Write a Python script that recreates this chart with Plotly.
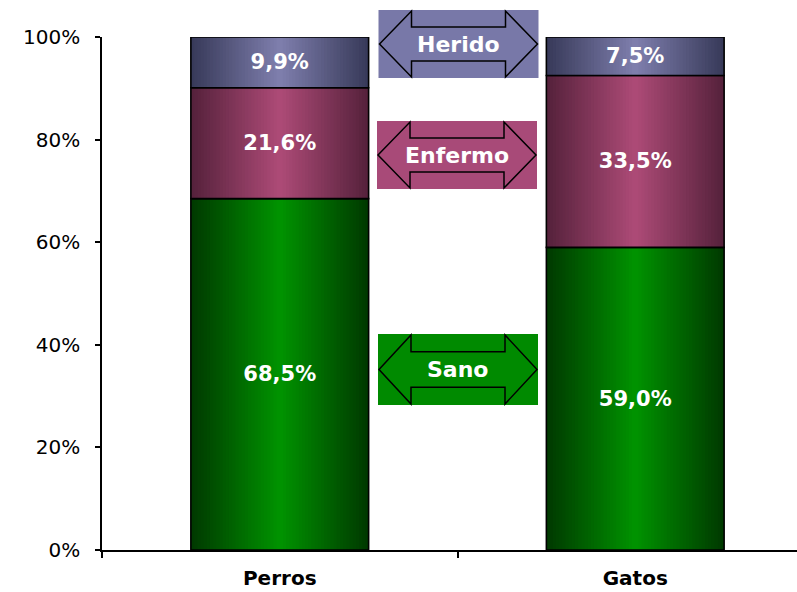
import plotly.graph_objects as go

categories = ["Perros", "Gatos"]
sano = [68.5, 59.0]
enfermo = [21.6, 33.5]
herido = [9.9, 7.5]
y_ticks = [0, 20, 40, 60, 80, 100]

FONT = "DejaVu Sans"
W, H = 797, 592
L, R, T, B = 102, 0, 37, 42

# segment name, values, edge colour, centre colour, legend box colour
segments = [
    ("Sano", sano, (0, 58, 0), (0, 146, 0), "#008a00"),
    ("Enfermo", enfermo, (86, 34, 60), (172, 74, 118), "#a84a78"),
    ("Herido", herido, (56, 58, 90), (126, 126, 172), "#7878a8"),
]


def mix(c0, c1, t):
    return "rgb(%d,%d,%d)" % tuple(round(a + (b - a) * t) for a, b in zip(c0, c1))


def pct(v):
    return f"{v:.1f}%".replace(".", ",")


BAR_W = 0.5
N = 28

fig = go.Figure()
bases = [0.0] * len(categories)
for name, vals, dark, light, _ in segments:
    # fake horizontal gradient: nested bars, darkest/widest first
    for k in range(N):
        t = k / (N - 1)
        fig.add_trace(go.Bar(
            x=categories, y=vals, base=bases, width=BAR_W * (1 - k / N),
            marker=dict(color=mix(dark, light, t), line=dict(width=0)),
            hoverinfo="skip", showlegend=False,
        ))
    fig.add_trace(go.Bar(
        x=categories, y=vals, base=bases, width=BAR_W, name=name,
        marker=dict(color="rgba(0,0,0,0)", line=dict(color="black", width=1.6)),
        text=[pct(v) for v in vals], textposition="inside",
        insidetextanchor="middle", textangle=0, constraintext="none",
        textfont=dict(family=FONT, size=21, color="white", weight="bold"),
        showlegend=False,
    ))
    bases = [b + v for b, v in zip(bases, vals)]


def px(x, y):
    pw, ph = W - L - R, H - T - B
    return (x - L) / pw, (H - B - y) / ph


def legend_box(label, cx, cy, color, w=160, h=69):
    x0, y0 = px(cx - w / 2, cy - h / 2)
    x1, y1 = px(cx + w / 2, cy + h / 2)
    fig.add_shape(type="rect", xref="paper", yref="paper",
                  x0=x0, x1=x1, y0=y0, y1=y1,
                  fillcolor=color, line=dict(width=0), layer="above")
    head = 33
    pts = [
        (cx - w / 2 + 1, cy),
        (cx - w / 2 + head, cy - h / 2 + 1),
        (cx - w / 2 + head, cy - h / 4),
        (cx + w / 2 - head, cy - h / 4),
        (cx + w / 2 - head, cy - h / 2 + 1),
        (cx + w / 2 - 1, cy),
        (cx + w / 2 - head, cy + h / 2 - 1),
        (cx + w / 2 - head, cy + h / 4),
        (cx - w / 2 + head, cy + h / 4),
        (cx - w / 2 + head, cy + h / 2 - 1),
    ]
    path = "M " + " L ".join("%.5f,%.5f" % px(a, b) for a, b in pts) + " Z"
    fig.add_shape(type="path", xref="paper", yref="paper", path=path,
                  line=dict(color="black", width=1.5), layer="above")
    ax, ay = px(cx, cy)
    fig.add_annotation(x=ax, y=ay, xref="paper", yref="paper", text=label,
                       showarrow=False, xanchor="center", yanchor="middle",
                       font=dict(family=FONT, size=22, color="white",
                                 weight="bold"))


legend_box("Herido", 458.5, 44, segments[2][4], h=68)
legend_box("Enfermo", 457, 155, segments[1][4], h=68)
legend_box("Sano", 458, 369.5, segments[0][4], h=71)

fig.update_layout(
    width=W, height=H, barmode="overlay",
    margin=dict(l=L, r=R, t=T, b=B),
    plot_bgcolor="white", paper_bgcolor="white",
    font=dict(family=FONT, color="black"),
    xaxis=dict(type="category", range=[-0.5, 1.455], tickson="boundaries",
               ticks="outside", ticklen=6, tickwidth=1.5, tickcolor="black",
               showline=True, linecolor="black", linewidth=2,
               showgrid=False, ticklabelstandoff=9, automargin=False,
               tickfont=dict(family=FONT, size=20, weight="bold")),
    yaxis=dict(range=[0, 100], tickvals=y_ticks,
               ticktext=[f"{v}%" for v in y_ticks],
               ticks="outside", ticklen=5, tickwidth=1.5,
               tickcolor="black", showline=True, linecolor="black",
               linewidth=1.5, showgrid=False, zeroline=False,
               ticklabelstandoff=11, automargin=False,
               tickfont=dict(family=FONT, size=20)),
)

# page has a default 8px body margin; drop it so the figure fills the window
fig.write_html("out.html", config={"displayModeBar": False},
               post_script="document.body.style.margin='0';")
